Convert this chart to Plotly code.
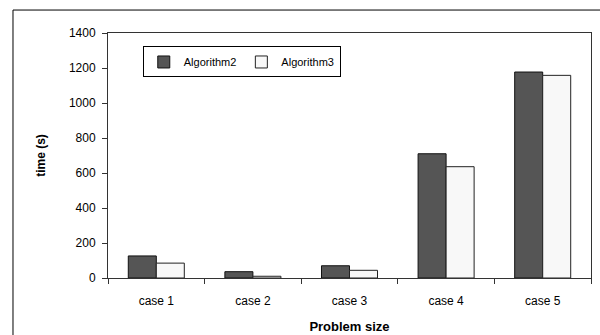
import plotly.graph_objects as go

categories = ["case 1", "case 2", "case 3", "case 4", "case 5"]
algorithm2 = [126, 36, 70, 710, 1177]
algorithm3 = [85, 10, 44, 636, 1158]
y_ticks = [0, 200, 400, 600, 800, 1000, 1200, 1400]

FONT = "Liberation Sans, Arial, sans-serif"

fig = go.Figure()
fig.add_trace(go.Bar(
    name="Algorithm2", x=categories, y=algorithm2,
    marker=dict(color="#555555", line=dict(color="#111111", width=1)),
))
fig.add_trace(go.Bar(
    name="Algorithm3", x=categories, y=algorithm3,
    marker=dict(color="#f8f8f8", line=dict(color="#222222", width=1)),
))

fig.update_layout(
    width=600, height=335,
    margin=dict(l=108, r=9, t=33, b=57, autoexpand=False),
    paper_bgcolor="white", plot_bgcolor="white",
    barmode="group", bargap=0.42, bargroupgap=0,
    font=dict(family=FONT, size=12, color="#000000"),
    showlegend=True,
    legend=dict(
        orientation="h", x=0.072, y=0.945, xanchor="left", yanchor="top",
        bordercolor="#000000", borderwidth=1, bgcolor="white",
        font=dict(family=FONT, size=11, color="#000000"),
        itemwidth=30, tracegroupgap=0,
    ),
    xaxis=dict(
        type="category", tickson="boundaries", ticks="outside", ticklen=5,
        tickcolor="#333333", showline=True, linecolor="#333333", linewidth=1,
        mirror=True, showgrid=False, ticklabelstandoff=12, automargin=False,
        title=dict(text="<b>Problem size</b>", font=dict(family=FONT, size=13),
                   standoff=14),
    ),
    yaxis=dict(
        range=[0, 1400], tickvals=y_ticks, ticks="outside", ticklen=5,
        tickcolor="#333333", showline=True, linecolor="#333333", linewidth=1,
        mirror=True, showgrid=False, zeroline=False, ticklabelstandoff=4,
        automargin=False,
        title=dict(text="<b>time (s)</b>", font=dict(family=FONT, size=12),
                   standoff=20),
    ),
    shapes=[dict(
        type="rect", xref="paper", yref="paper",
        x0=-0.1967, x1=1.05, y0=-0.3, y1=1.0937,
        line=dict(color="#000000", width=1), fillcolor="rgba(0,0,0,0)",
        layer="below",
    )],
)

fig.write_html("out.html")
